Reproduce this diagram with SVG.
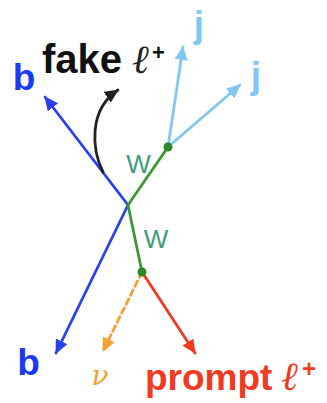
<svg xmlns="http://www.w3.org/2000/svg" width="327" height="403" viewBox="0 0 327 403">
<style>
.ln{fill:none;stroke-width:2.8;stroke-linecap:round}
.bold{font-family:"Liberation Sans",Arial,sans-serif;font-weight:bold}
.ell{font-family:"Liberation Serif","DejaVu Serif",serif;font-style:italic}
.nu{font-family:"DejaVu Serif","Liberation Serif",serif;font-style:italic}
.w{font-family:"Liberation Sans",Arial,sans-serif;fill:#3f9c7c;font-size:26px}
</style>
<defs>
<marker id="mBlue" markerUnits="userSpaceOnUse" markerWidth="15" markerHeight="13" refX="13" refY="6.5" orient="auto"><path d="M0,0 L14,6.5 L0,13 z" fill="#2a40f0"/></marker>
<marker id="mLight" markerUnits="userSpaceOnUse" markerWidth="15" markerHeight="13" refX="13" refY="6.5" orient="auto"><path d="M0,0 L14,6.5 L0,13 z" fill="#80c8f2"/></marker>
<marker id="mBlack" markerUnits="userSpaceOnUse" markerWidth="15" markerHeight="13" refX="13" refY="6.5" orient="auto"><path d="M0,0 L14,6.5 L0,13 z" fill="#222"/></marker>
<marker id="mOrange" markerUnits="userSpaceOnUse" markerWidth="15" markerHeight="13" refX="13" refY="6.5" orient="auto"><path d="M0,0 L14,6.5 L0,13 z" fill="#f6a030"/></marker>
<marker id="mRed" markerUnits="userSpaceOnUse" markerWidth="15" markerHeight="13" refX="13" refY="6.5" orient="auto"><path d="M0,0 L14,6.5 L0,13 z" fill="#f03a22"/></marker>
</defs>
<rect width="327" height="403" fill="#fff"/>
<g id="connectors">
<line class="ln" x1="128" y1="205" x2="45" y2="97" stroke="#2a40f0" marker-end="url(#mBlue)"/>
<line class="ln" x1="128" y1="205" x2="56" y2="353" stroke="#2a40f0" marker-end="url(#mBlue)"/>
<line class="ln" x1="128" y1="205" x2="168" y2="147" stroke="#3a9a2c"/>
<line class="ln" x1="128" y1="205" x2="142" y2="272" stroke="#3a9a2c"/>
<line class="ln" x1="168" y1="147" x2="183" y2="47" stroke="#80c8f2" marker-end="url(#mLight)"/>
<line class="ln" x1="168" y1="147" x2="240" y2="85" stroke="#80c8f2" marker-end="url(#mLight)"/>
<line class="ln" x1="142" y1="272" x2="103" y2="351" stroke="#f6a030" stroke-dasharray="6,4" stroke-linecap="butt" marker-end="url(#mOrange)"/>
<line class="ln" x1="142" y1="272" x2="195" y2="353" stroke="#f03a22" marker-end="url(#mRed)"/>
<path class="ln" d="M103,172 C92,150 88,110 118,90" stroke="#222" marker-end="url(#mBlack)"/>
</g>
<g id="vertex-top"><circle cx="168" cy="147" r="4.5" fill="#2a8a2a"/></g>
<g id="vertex-bottom"><circle cx="142" cy="272" r="4.5" fill="#2a8a2a"/></g>
<g id="label-b-top"><text class="bold" x="24" y="90" font-size="37" fill="#1a3af5" text-anchor="middle">b</text></g>
<g id="label-b-bottom"><text class="bold" x="28.5" y="375" font-size="37" fill="#1a3af5" text-anchor="middle">b</text></g>
<g id="label-j1"><text class="bold" x="199" y="37" font-size="37" fill="#80c8f2" text-anchor="middle">j</text></g>
<g id="label-j2"><text class="bold" x="256" y="88" font-size="37" fill="#80c8f2" text-anchor="middle">j</text></g>
<g id="label-fake"><text x="42" y="73" fill="#111"><tspan class="bold" font-size="40">fake</tspan><tspan class="ell" x="132" font-size="40" fill="#222">ℓ</tspan><tspan class="bold" x="152" y="60" font-size="22">+</tspan></text></g>
<g id="label-w1"><text class="w" x="138.5" y="173" text-anchor="middle">W</text></g>
<g id="label-w2"><text class="w" x="156" y="248" text-anchor="middle">W</text></g>
<g id="label-nu"><text class="nu" x="100" y="385" font-size="28" fill="#f6a030" text-anchor="middle">ν</text></g>
<g id="label-prompt"><text x="145" y="390" fill="#f03a22"><tspan class="bold" font-size="37">prompt</tspan><tspan class="ell" x="281" font-size="40">ℓ</tspan><tspan class="bold" x="302" y="377" font-size="24">+</tspan></text></g>
</svg>
